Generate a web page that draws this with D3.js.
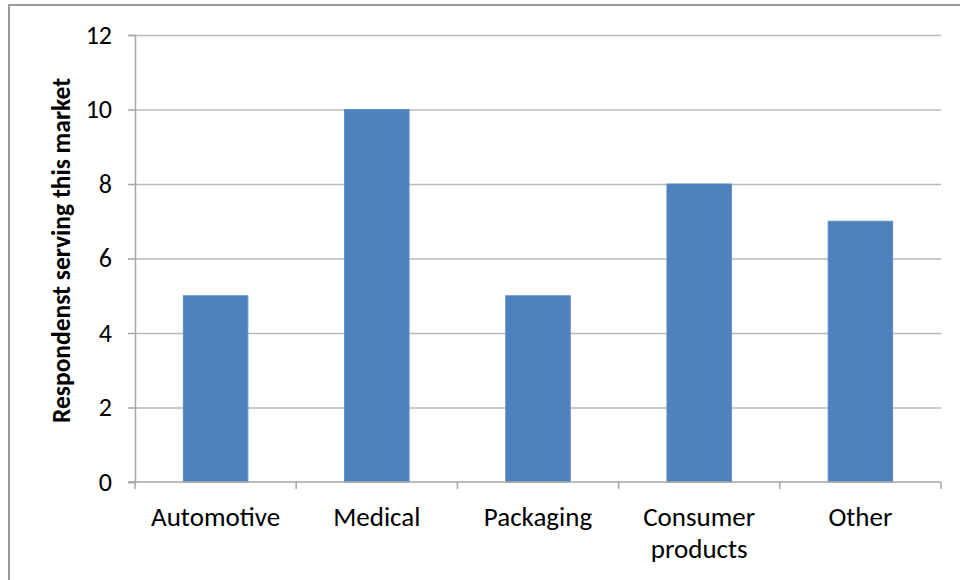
<!DOCTYPE html>
<html>
<head>
<meta charset="utf-8">
<script src="https://cdn.jsdelivr.net/npm/d3@7"></script>
<style>
  html, body { margin: 0; padding: 0; background: #fff; }
  svg { display: block; }
  text { font-family: Carlito, Lato, "Open Sans", sans-serif; fill: #000; }
</style>
</head>
<body>
<svg id="chart" width="960" height="580"></svg>
<script>
// Market segments and number of respondents serving each one
const categories = [["Automotive"], ["Medical"], ["Packaging"], ["Consumer", "products"], ["Other"]];
const values = [5, 10, 5, 8, 7];
const yTicks = [0, 2, 4, 6, 8, 10, 12];
const yTitle = "Respondenst serving this market";

const svg = d3.select("#chart");
const W = 960, H = 580;

// Outer chart frame (left and top edges)
svg.append("line").attr("x1", 9).attr("x2", 9).attr("y1", 5).attr("y2", H)
  .attr("stroke", "#9a9a9a").attr("stroke-width", 2);
svg.append("line").attr("x1", 8).attr("x2", W).attr("y1", 5).attr("y2", 5)
  .attr("stroke", "#9a9a9a").attr("stroke-width", 2);

const plot = { left: 135, right: 941, top: 35, bottom: 482 };

const x = d3.scaleBand()
  .domain(categories.map((d, i) => i))
  .range([plot.left, plot.right])
  .paddingInner(0.6)
  .paddingOuter(0.3);

const xBounds = d3.scaleLinear().domain([0, categories.length]).range([plot.left, plot.right]);

const y = d3.scaleLinear().domain([0, 12]).range([plot.bottom, plot.top]);

// Horizontal gridlines
svg.append("g").selectAll("line").data(yTicks.filter(t => t > 0)).join("line")
  .attr("x1", plot.left).attr("x2", plot.right)
  .attr("y1", d => y(d) + 0.5).attr("y2", d => y(d) + 0.5)
  .attr("stroke", "#b9b9b9").attr("stroke-width", 1.5);

// Bars
svg.append("g").selectAll("rect").data(values).join("rect")
  .attr("x", (d, i) => x(i))
  .attr("width", x.bandwidth())
  .attr("y", d => y(d))
  .attr("height", d => y(0) - y(d))
  .attr("fill", "#4f81bd")
  .attr("stroke", "#5b8cc7")
  .attr("stroke-width", 1);

// Y axis
const yAxis = svg.append("g").attr("transform", `translate(${plot.left},0)`)
  .call(d3.axisLeft(y).tickValues(yTicks).tickSize(7).tickPadding(16));
yAxis.select(".domain").attr("stroke", "#a6a6a6").attr("stroke-width", 1.5);
yAxis.selectAll(".tick line").attr("stroke", "#a6a6a6").attr("stroke-width", 1.5);
yAxis.selectAll(".tick text")
  .style("font-family", "Carlito, Lato, 'Open Sans', sans-serif")
  .style("font-size", "26px").attr("fill", "#222");

// X axis baseline with ticks at category boundaries
const xAxis = svg.append("g");
xAxis.append("line").attr("x1", plot.left - 7).attr("x2", plot.right)
  .attr("y1", plot.bottom).attr("y2", plot.bottom)
  .attr("stroke", "#a6a6a6").attr("stroke-width", 1.5);
xAxis.selectAll("line.tk").data(d3.range(categories.length + 1)).join("line")
  .attr("class", "tk")
  .attr("x1", d => xBounds(d)).attr("x2", d => xBounds(d))
  .attr("y1", plot.bottom).attr("y2", plot.bottom + 7)
  .attr("stroke", "#a6a6a6").attr("stroke-width", 1.5);

// Category labels
const labels = svg.append("g").selectAll("text").data(categories).join("text")
  .attr("x", (d, i) => x(i) + x.bandwidth() / 2)
  .attr("y", 526)
  .attr("text-anchor", "middle")
  .style("font-size", "27px").attr("fill", "#222");
labels.selectAll("tspan").data(d => d).join("tspan")
  .attr("x", function () { return d3.select(this.parentNode).attr("x"); })
  .attr("dy", (d, i) => i === 0 ? 0 : 32)
  .text(d => d);

// Y axis title
svg.append("text")
  .attr("transform", `translate(70,${(plot.top + plot.bottom) / 2 - 8}) rotate(-90)`)
  .attr("text-anchor", "middle")
  .style("font-size", "25.5px").style("font-weight", "bold")
  .text(yTitle);
</script>
</body>
</html>
